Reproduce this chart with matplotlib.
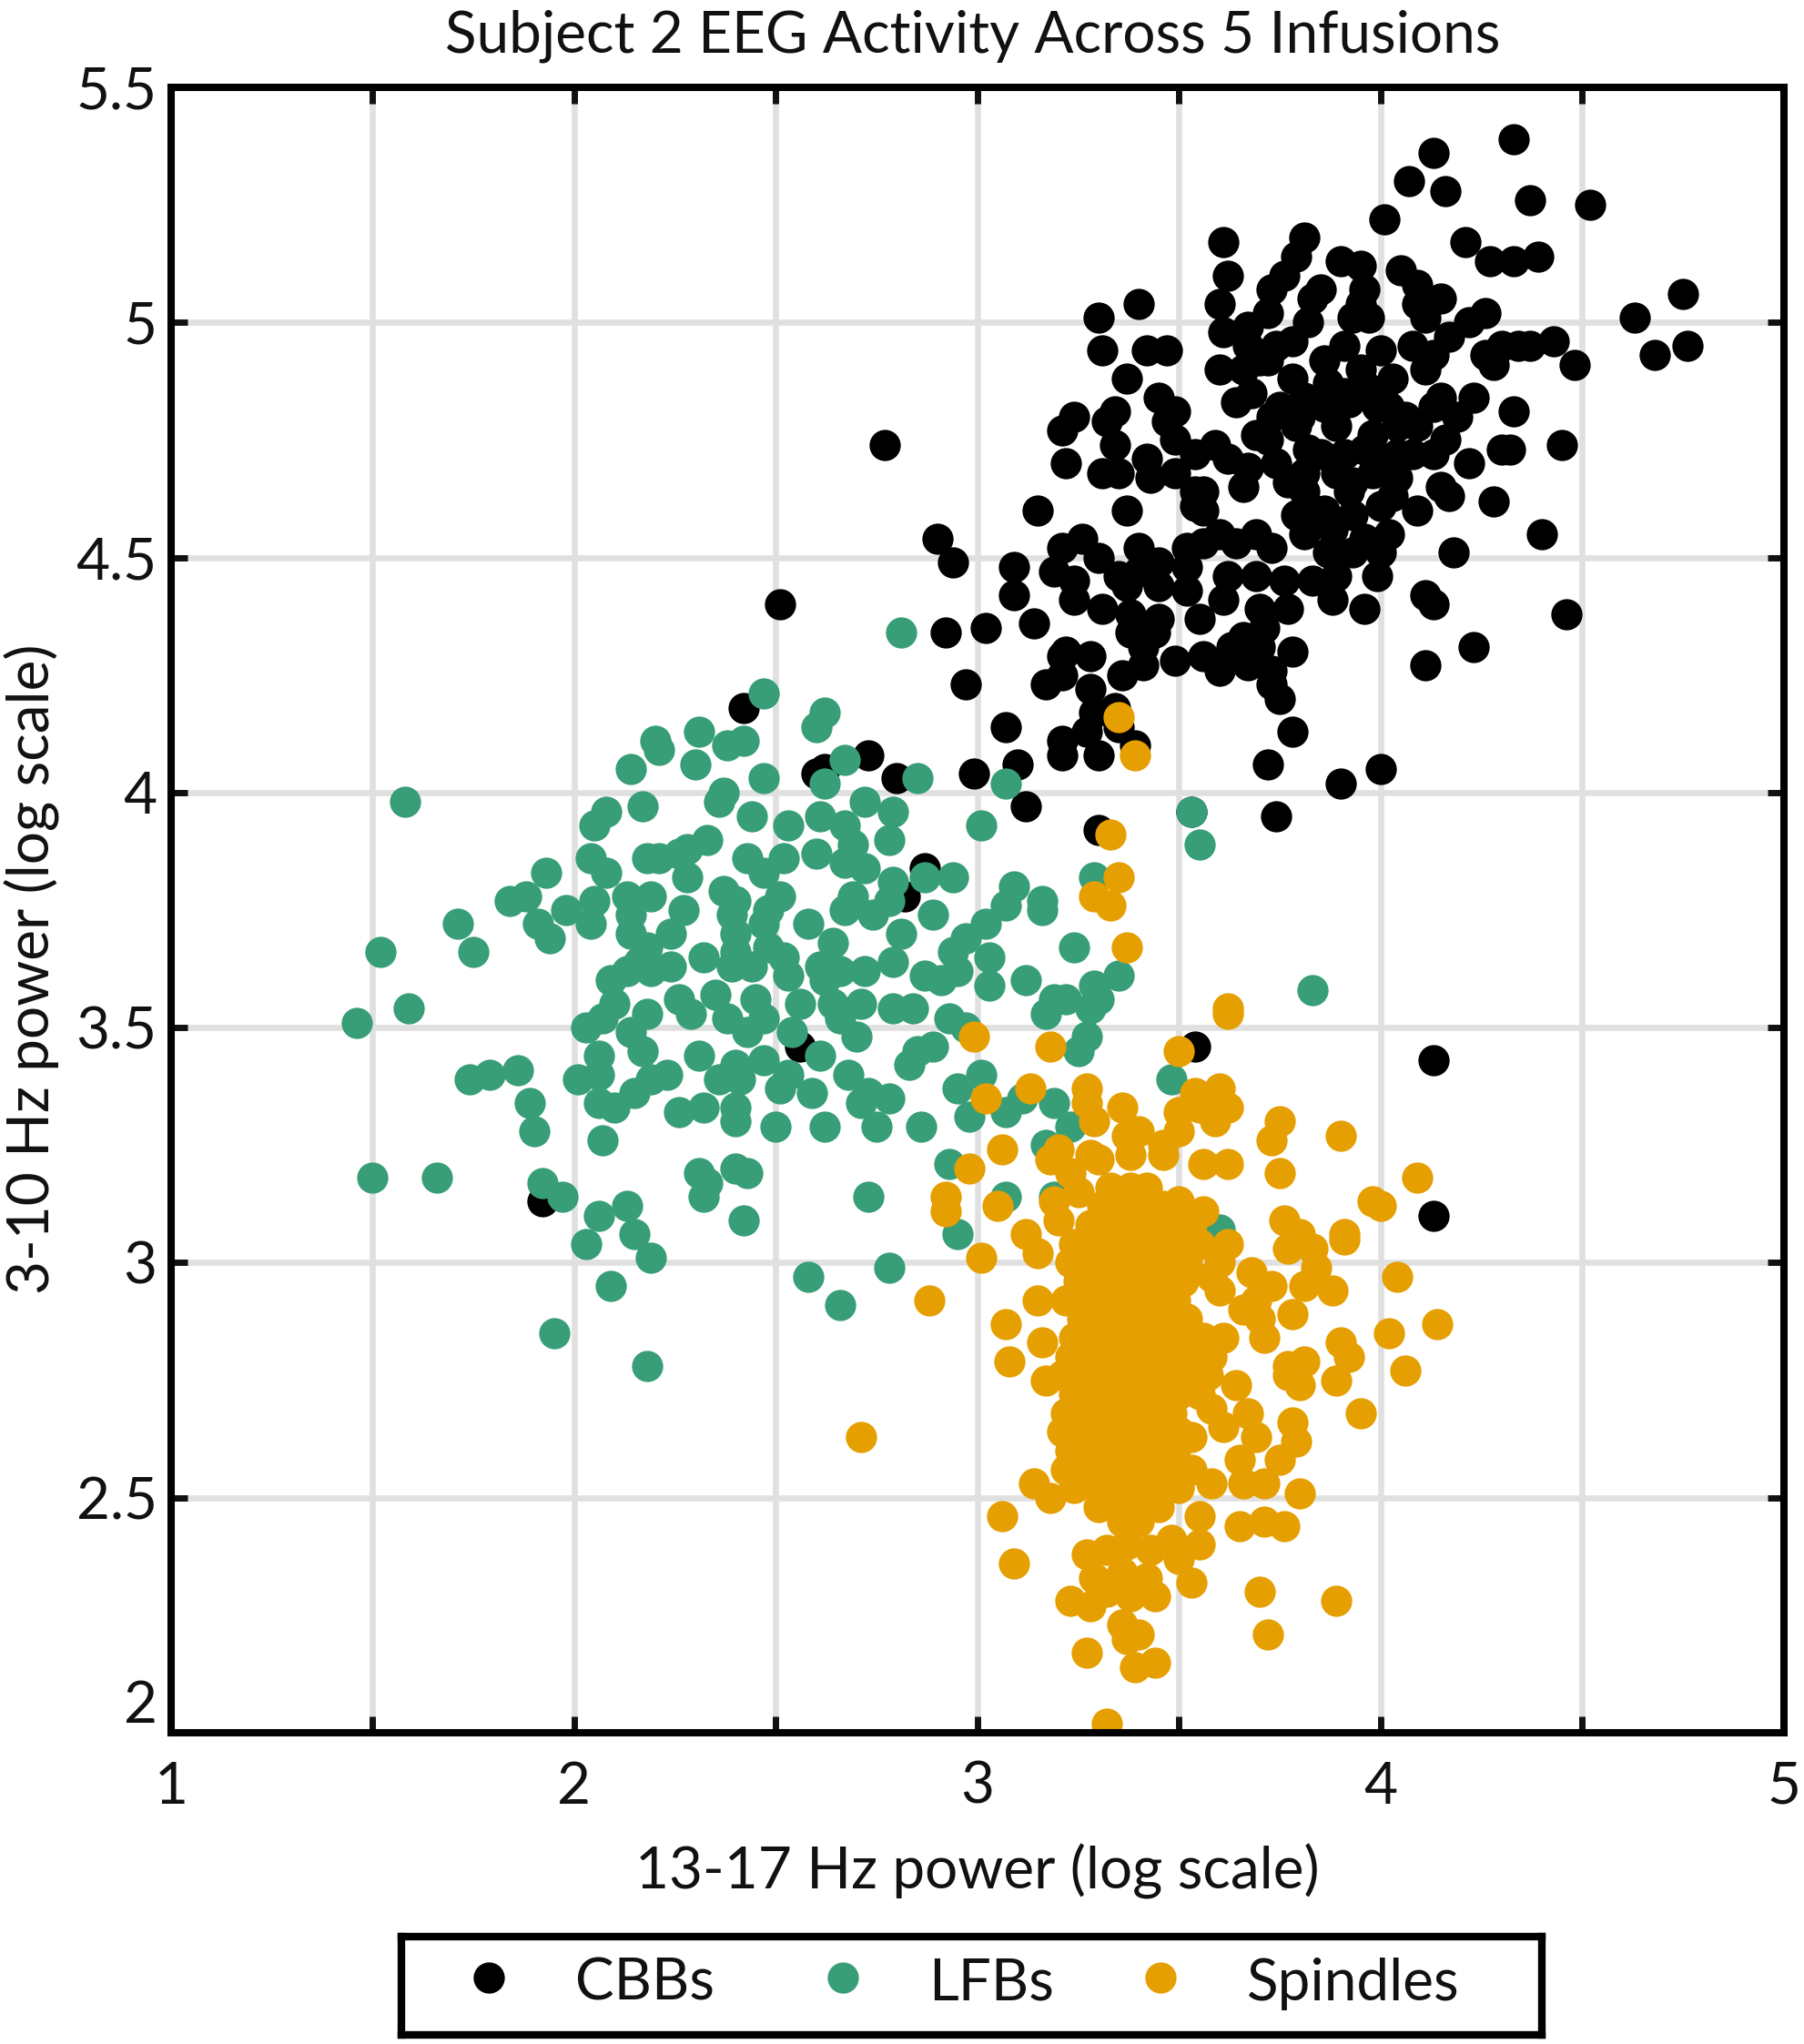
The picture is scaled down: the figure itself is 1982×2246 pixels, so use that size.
import numpy as np
import matplotlib
matplotlib.use('Agg')
import matplotlib.pyplot as plt

plt.rcParams['font.family'] = ['Lato', 'DejaVu Sans']

# values: (13-17 Hz power, 3-10 Hz power)
cbb = np.array([
    (4.33,5.39),(4.13,5.36),(4.07,5.30),(4.16,5.28),(4.37,5.26),(4.52,5.25),(4.01,5.22),(4.21,5.17),
    (4.27,5.13),(4.33,5.13),(4.39,5.14),(4.75,5.06),(4.63,5.01),(4.68,4.93),(4.76,4.95),(3.61,5.17),
    (3.62,5.10),(3.60,5.04),(3.81,5.18),(3.79,5.14),(3.76,5.10),(3.73,5.07),(3.90,5.13),(3.95,5.12),
    (3.96,5.07),(3.85,5.07),(3.83,5.05),(3.82,5.00),(4.05,5.11),(4.09,5.08),(4.15,5.05),(4.09,5.04),
    (4.26,5.02),(4.22,5.00),(4.11,5.01),(4.17,4.97),(4.08,4.95),(4.13,4.93),(4.11,4.90),(3.95,5.04),
    (3.93,5.01),(3.97,5.01),(3.91,4.95),(4.00,4.94),(4.26,4.93),(4.28,4.91),(4.30,4.95),(4.34,4.95),
    (4.37,4.95),(4.43,4.96),(4.48,4.91),(3.30,5.01),(3.40,5.04),(3.31,4.94),(3.42,4.94),(3.47,4.94),
    (3.37,4.88),(3.45,4.84),(3.49,4.81),(3.47,4.79),(3.49,4.75),(3.24,4.80),(3.21,4.77),(3.34,4.81),
    (3.32,4.79),(3.34,4.74),(3.22,4.70),(3.31,4.68),(3.35,4.68),(3.42,4.71),(3.43,4.67),(3.49,4.68),
    (3.54,4.72),(3.59,4.74),(3.62,4.71),(3.54,4.64),(3.56,4.64),(3.54,4.61),(3.56,4.60),(3.66,4.65),
    (3.67,4.69),(3.61,4.98),(3.67,4.99),(3.72,5.02),(3.67,4.95),(3.78,4.96),(3.74,4.95),(3.60,4.90),
    (3.66,4.90),(3.64,4.83),(3.68,4.85),(3.78,4.88),(3.87,4.87),(3.91,4.85),(3.95,4.90),(4.03,4.88),
    (3.75,4.82),(3.81,4.84),(3.92,4.83),(4.02,4.82),(4.06,4.80),(4.15,4.84),(4.23,4.84),(4.13,4.82),
    (4.19,4.80),(4.33,4.81),(3.69,4.76),(3.72,4.75),(3.79,4.78),(3.89,4.78),(3.98,4.76),(4.04,4.78),
    (4.16,4.75),(4.30,4.73),(4.32,4.73),(4.45,4.74),(4.22,4.70),(3.82,4.73),(3.85,4.72),(3.96,4.73),
    (4.02,4.71),(4.08,4.72),(4.13,4.72),(3.81,4.68),(3.89,4.68),(3.93,4.66),(4.04,4.67),(4.15,4.65),
    (4.17,4.63),(4.28,4.62),(3.81,4.64),(4.09,4.60),(4.03,4.63),(3.79,4.59),(3.86,4.60),(3.93,4.59),
    (4.00,4.61),(3.81,4.55),(3.88,4.56),(4.02,4.55),(3.96,4.54),(4.40,4.55),(4.18,4.51),(3.15,4.60),
    (3.37,4.60),(2.90,4.54),(2.94,4.49),(3.09,4.48),(3.09,4.42),(3.02,4.35),(2.92,4.34),(3.14,4.36),
    (3.26,4.54),(3.21,4.52),(3.19,4.47),(3.24,4.45),(3.24,4.41),(3.30,4.50),(3.40,4.52),(3.45,4.49),
    (3.40,4.47),(3.35,4.46),(3.37,4.44),(3.45,4.44),(3.52,4.43),(3.52,4.48),(3.52,4.52),(3.56,4.53),
    (3.60,4.55),(3.64,4.53),(3.69,4.55),(3.73,4.52),(3.62,4.46),(3.69,4.46),(3.76,4.45),(3.83,4.45),
    (3.89,4.46),(3.87,4.51),(3.93,4.51),(4.00,4.51),(3.99,4.46),(3.61,4.41),(3.88,4.41),(3.77,4.39),
    (3.70,4.39),(3.96,4.39),(4.11,4.42),(4.13,4.40),(3.31,4.39),(3.38,4.38),(3.45,4.37),(3.44,4.34),
    (3.38,4.34),(3.55,4.37),(4.46,4.38),(4.23,4.31),(4.11,4.27),(3.78,4.30),(3.71,4.35),(3.70,4.31),
    (3.63,4.31),(3.66,4.33),(3.41,4.31),(3.41,4.27),(3.36,4.25),(3.49,4.28),(3.56,4.29),(3.60,4.26),
    (3.67,4.27),(3.73,4.26),(3.73,4.23),(3.75,4.20),(3.78,4.13),(3.72,4.06),(3.90,4.02),(4.00,4.05),
    (3.74,3.95),(3.22,4.30),(3.28,4.29),(3.21,4.29),(3.21,4.25),(3.17,4.23),(2.97,4.23),(3.28,4.22),
    (3.29,4.17),(3.34,4.18),(3.27,4.13),(3.21,4.11),(3.21,4.08),(3.30,4.08),(3.35,4.14),(3.39,4.10),
    (3.07,4.14),(3.10,4.06),(2.99,4.04),(3.12,3.97),(3.53,3.96),(3.30,3.92),(2.42,4.18),(2.62,4.05),
    (2.60,4.04),(2.73,4.08),(2.80,4.03),(2.87,3.84),(2.82,3.78),(2.56,3.46),(1.92,3.13),(3.54,3.46),
    (4.13,3.43),(4.13,3.10),(2.51,4.40),(2.77,4.74),
    # fill of the dark middle
    (3.72,4.92),(3.86,4.92),(3.80,4.80),(3.86,4.82),(3.74,4.70),(3.77,4.66),(3.98,4.68),(3.99,4.82),
    (4.09,4.78),(3.91,4.72),(3.83,4.60),(3.92,4.64),(3.73,4.80),(3.70,4.92),(4.04,4.72),(3.97,4.86),
])

lfb = np.array([
    (2.47,4.21),(2.62,4.17),(2.60,4.14),(2.31,4.13),(2.20,4.11),(2.21,4.09),(2.38,4.10),(2.42,4.11),
    (2.30,4.06),(2.14,4.05),(2.67,4.07),(2.62,4.02),(2.85,4.03),(3.07,4.02),(2.47,4.03),(2.37,4.00),
    (2.36,3.98),(1.58,3.98),(2.17,3.97),(2.08,3.96),(2.05,3.93),(2.44,3.95),(2.72,3.98),(2.79,3.96),
    (2.78,3.90),(3.01,3.93),(2.53,3.93),(2.61,3.95),(2.67,3.93),(2.33,3.90),(2.28,3.88),(2.21,3.86),
    (2.26,3.87),(2.18,3.86),(2.04,3.86),(2.08,3.83),(1.93,3.83),(2.43,3.86),(2.47,3.83),(2.52,3.86),
    (2.60,3.87),(2.69,3.89),(2.67,3.85),(2.72,3.84),(2.28,3.82),(1.84,3.77),(1.88,3.78),(2.13,3.78),
    (2.19,3.78),(2.05,3.77),(1.98,3.75),(2.04,3.72),(2.27,3.75),(2.37,3.79),(2.40,3.77),(2.51,3.78),
    (2.48,3.75),(2.79,3.81),(2.87,3.82),(2.94,3.82),(2.69,3.78),(2.67,3.75),(2.78,3.77),(2.74,3.74),
    (2.89,3.74),(3.09,3.80),(3.16,3.77),(3.16,3.75),(3.07,3.76),(3.02,3.72),(2.97,3.69),(3.24,3.67),
    (2.81,3.70),(2.58,3.72),(2.24,3.70),(2.14,3.74),(2.14,3.70),(2.39,3.74),(2.40,3.70),(2.47,3.72),
    (1.91,3.72),(1.94,3.69),(1.71,3.72),(1.75,3.66),(1.52,3.66),(2.18,3.67),(2.64,3.68),(2.94,3.66),
    (2.32,3.65),(2.40,3.66),(2.48,3.67),(2.52,3.65),(2.61,3.63),(2.79,3.64),(3.03,3.65),(3.03,3.59),
    (2.87,3.61),(2.95,3.62),(2.91,3.60),(3.12,3.60),(2.24,3.63),(2.16,3.64),(2.19,3.62),(2.09,3.60),
    (2.13,3.62),(2.39,3.63),(2.44,3.63),(2.53,3.61),(2.66,3.62),(2.72,3.62),(2.62,3.60),(3.35,3.61),
    (3.29,3.59),(3.22,3.56),(3.19,3.56),(3.17,3.53),(3.28,3.54),(3.27,3.48),(3.25,3.45),(1.59,3.54),
    (1.46,3.51),(2.10,3.55),(2.18,3.53),(2.26,3.56),(2.35,3.57),(2.29,3.53),(2.45,3.56),(2.38,3.52),
    (2.47,3.52),(2.56,3.55),(2.54,3.49),(2.64,3.55),(2.71,3.55),(2.66,3.52),(2.70,3.48),(2.79,3.54),
    (2.84,3.54),(2.93,3.52),(2.97,3.50),(2.03,3.50),(2.07,3.52),(2.14,3.49),(2.43,3.49),(2.17,3.45),
    (2.06,3.44),(2.31,3.44),(2.89,3.46),(2.85,3.45),(2.83,3.42),(2.61,3.44),(1.74,3.39),(1.79,3.40),
    (1.86,3.41),(1.89,3.34),(1.90,3.28),(2.01,3.39),(2.06,3.40),(2.23,3.40),(2.19,3.39),(2.40,3.42),
    (2.47,3.43),(2.53,3.40),(2.68,3.40),(3.01,3.40),(2.95,3.37),(2.36,3.39),(2.41,3.39),(2.51,3.37),
    (2.59,3.36),(2.73,3.36),(2.78,3.35),(2.71,3.34),(2.15,3.36),(2.06,3.34),(2.10,3.33),(2.98,3.31),
    (3.07,3.32),(3.11,3.35),(3.19,3.34),(2.26,3.32),(2.32,3.33),(2.40,3.33),(2.40,3.30),(2.50,3.29),
    (2.62,3.29),(2.75,3.29),(2.86,3.29),(3.23,3.29),(3.17,3.25),(2.07,3.26),(2.93,3.21),(1.50,3.18),
    (1.66,3.18),(1.92,3.17),(1.97,3.14),(2.31,3.19),(2.40,3.20),(2.43,3.19),(2.33,3.17),(2.32,3.14),
    (2.13,3.12),(2.06,3.10),(2.15,3.06),(2.03,3.04),(2.19,3.01),(2.09,2.95),(2.42,3.09),(2.73,3.14),
    (3.07,3.14),(3.19,3.14),(2.95,3.06),(2.58,2.97),(2.78,2.99),(2.66,2.91),(1.95,2.85),(2.18,2.78),
    (2.81,4.34),(3.53,3.96),(3.55,3.89),(3.83,3.58),(3.48,3.39),(3.60,3.07),(3.29,3.82),(3.30,3.56),
])

spindle = np.array([
    (3.35,4.16),(3.39,4.08),(3.33,3.91),(3.35,3.82),(3.29,3.78),(3.33,3.76),(3.37,3.67),(3.62,3.54),
    (3.62,3.53),(3.50,3.45),(2.99,3.48),(3.18,3.46),(3.02,3.35),(3.13,3.37),(3.27,3.37),(3.27,3.34),
    (3.29,3.30),(3.36,3.33),(3.40,3.28),(3.37,3.27),(3.38,3.23),(3.54,3.36),(3.60,3.37),(3.62,3.33),
    (3.50,3.32),(3.55,3.33),(3.59,3.30),(3.50,3.28),(3.46,3.25),(3.46,3.23),(3.56,3.21),(3.62,3.21),
    (3.75,3.30),(3.73,3.26),(3.75,3.19),(3.90,3.27),(3.06,3.24),(2.98,3.20),(2.92,3.14),(2.92,3.11),
    (3.05,3.12),(3.01,3.01),(2.88,2.92),(3.20,3.24),(3.18,3.22),(3.28,3.23),(3.30,3.22),(3.23,3.19),
    (3.25,3.15),(3.19,3.13),(3.20,3.09),(3.12,3.06),(3.15,3.02),(4.09,3.18),(3.98,3.13),(4.00,3.12),
    (3.91,3.06),(3.91,3.05),(3.76,3.09),(3.80,3.06),(3.77,3.03),(3.83,3.03),(3.84,2.99),(3.81,2.95),
    (3.88,2.94),(4.04,2.97),(3.78,2.89),(3.73,2.95),(3.68,2.98),(3.69,2.92),(3.66,2.90),(3.70,2.88),
    (3.71,2.84),(3.60,3.00),(3.62,3.04),(3.56,3.11),(3.50,3.13),(3.58,2.97),(3.60,2.94),(4.14,2.87),
    (4.02,2.85),(3.90,2.83),(3.92,2.80),(3.77,2.78),(3.81,2.79),(3.77,2.76),(3.80,2.74),(3.89,2.75),
    (4.06,2.77),(3.95,2.68),(3.07,2.87),(3.15,2.92),(3.16,2.83),(3.08,2.79),(3.17,2.75),(3.61,2.84),
    (3.64,2.74),(3.58,2.69),(3.67,2.68),(3.61,2.65),(3.69,2.63),(3.78,2.66),(3.79,2.62),(3.75,2.58),
    (3.65,2.58),(3.71,2.53),(3.66,2.53),(3.80,2.51),(3.58,2.53),(3.53,2.63),(3.53,2.56),(3.65,2.44),
    (3.71,2.45),(3.76,2.44),(3.14,2.53),(3.18,2.50),(3.06,2.46),(3.09,2.36),(3.55,2.46),(3.48,2.41),
    (3.55,2.40),(3.50,2.37),(3.53,2.32),(3.70,2.30),(3.89,2.28),(3.72,2.21),(3.27,2.17),(3.39,2.14),
    (3.44,2.15),(3.32,2.02),(3.23,2.28),(3.28,2.27),(3.44,2.29),(3.36,2.23),(3.40,2.21),(3.37,2.20),
    (3.27,2.38),(3.32,2.39),(3.37,2.40),(3.43,2.39),(3.29,2.33),(3.36,2.34),(3.42,2.33),(3.32,2.30),
    (3.38,2.29),(2.71,2.63),
    # dense middle of the cluster
    (3.33,3.16),(3.38,3.16),(3.42,3.16),(3.31,3.12),(3.36,3.12),(3.41,3.12),(3.46,3.12),
    (3.28,3.08),(3.33,3.08),(3.38,3.08),(3.43,3.08),(3.48,3.08),(3.53,3.08),
    (3.24,3.04),(3.29,3.04),(3.34,3.04),(3.40,3.04),(3.45,3.04),(3.50,3.04),(3.55,3.04),
    (3.23,3.00),(3.27,3.00),(3.33,3.00),(3.38,3.00),(3.43,3.00),(3.48,3.00),(3.52,3.00),
    (3.25,2.96),(3.31,2.96),(3.36,2.96),(3.41,2.96),(3.47,2.96),(3.51,2.96),
    (3.22,2.92),(3.28,2.92),(3.34,2.92),(3.39,2.92),(3.44,2.92),(3.49,2.92),
    (3.26,2.88),(3.31,2.88),(3.37,2.88),(3.42,2.88),(3.47,2.88),(3.52,2.88),
    (3.24,2.84),(3.29,2.84),(3.35,2.84),(3.40,2.84),(3.46,2.84),(3.51,2.84),(3.56,2.84),
    (3.23,2.80),(3.28,2.80),(3.33,2.80),(3.38,2.80),(3.44,2.80),(3.49,2.80),(3.54,2.80),(3.58,2.80),
    (3.21,2.76),(3.26,2.76),(3.31,2.76),(3.37,2.76),(3.42,2.76),(3.47,2.76),(3.53,2.76),(3.57,2.76),
    (3.24,2.72),(3.29,2.72),(3.35,2.72),(3.40,2.72),(3.45,2.72),(3.50,2.72),(3.55,2.72),
    (3.22,2.68),(3.27,2.68),(3.33,2.68),(3.38,2.68),(3.43,2.68),(3.48,2.68),
    (3.21,2.64),(3.26,2.64),(3.31,2.64),(3.36,2.64),(3.41,2.64),(3.46,2.64),(3.50,2.64),
    (3.23,2.60),(3.29,2.60),(3.34,2.60),(3.39,2.60),(3.44,2.60),(3.49,2.60),
    (3.22,2.56),(3.27,2.56),(3.32,2.56),(3.37,2.56),(3.42,2.56),(3.47,2.56),(3.52,2.56),
    (3.24,2.52),(3.30,2.52),(3.35,2.52),(3.40,2.52),(3.45,2.52),(3.50,2.52),
    (3.30,2.48),(3.35,2.48),(3.40,2.48),(3.45,2.48),(3.36,2.45),(3.40,2.45),
])

series_names = ['CBBs', 'LFBs', 'Spindles']
colors = ['#000000', '#379e78', '#e69f00']
x_ticks = [1, 1.5, 2, 2.5, 3, 3.5, 4, 4.5, 5]
x_labels = ['1', '', '2', '', '3', '', '4', '', '5']
y_ticks = [2, 2.5, 3, 3.5, 4, 4.5, 5, 5.5]
y_labels = ['2', '2.5', '3', '3.5', '4', '4.5', '5', '5.5']

W, H = 1983, 2246
marker_s = 610
fs = 46
fig = plt.figure(figsize=(W / 100, H / 100), dpi=100)
ax = fig.add_axes([188 / W, 1 - 1904 / H, (1960 - 188) / W, (1904 - 96) / H])

for pts, c, name in zip([cbb, lfb, spindle], colors, series_names):
    ax.scatter(pts[:, 0], pts[:, 1], s=marker_s, c=c, linewidths=0, label=name, zorder=3)

ax.set_xlim(1, 5)
ax.set_ylim(2, 5.5)
ax.set_xticks(x_ticks, x_labels)
ax.set_yticks(y_ticks, y_labels)
ax.grid(True, color='#e0e0e0', linewidth=4.8)
ax.set_axisbelow(True)
ax.tick_params(direction='in', length=13, width=5, top=True, right=True, labelsize=fs, colors='#111111')
ax.tick_params(axis='x', pad=22)
ax.tick_params(axis='y', pad=11)
ax.get_yticklabels()[0].set_verticalalignment('bottom')
for s in ax.spines.values():
    s.set_linewidth(5.8)
    s.set_zorder(5)

ax.set_xlabel('13-17 Hz power (log scale)', fontsize=fs, labelpad=24, color='#111111')
ax.set_ylabel('3-10 Hz power (log scale)', fontsize=fs, color='#111111')
ax.yaxis.set_label_coords(-0.069, 0.464)
ax.set_title('Subject 2 EEG Activity Across 5 Infusions', fontsize=fs, pad=28, color='#111111', x=0.497)

# legend box drawn as its own axes so the entries sit where they do in the original
lax = fig.add_axes([441 / W, 1 - 2236 / H, (1694 - 441) / W, (2236 - 2128) / H])
lax.set_xlim(441, 1694)
lax.set_ylim(0, 1)
lax.set_xticks([])
lax.set_yticks([])
for s in lax.spines.values():
    s.set_linewidth(6)
for name, c, mx, tx in zip(series_names, colors, [537, 926, 1275], [632, 1020, 1370]):
    lax.scatter([mx], [0.58], s=marker_s, c=c, linewidths=0)
    lax.text(tx, 0.52, name, fontsize=fs, va='center', ha='left', color='#111111')

fig.savefig('out.png', dpi=100)
